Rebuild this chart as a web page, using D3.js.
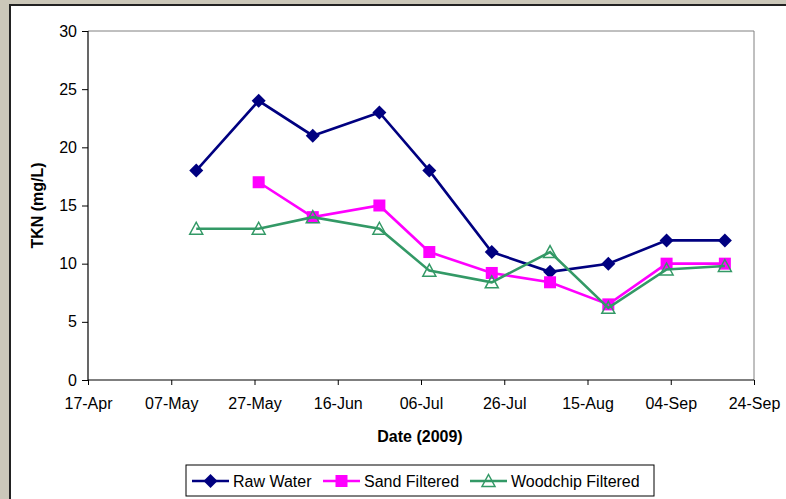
<!DOCTYPE html>
<html><head><meta charset="utf-8">
<script src="https://cdn.jsdelivr.net/npm/d3@7"></script>
<style>
html,body{margin:0;padding:0;background:#cdc9bc;}
svg{display:block;font-family:"Liberation Sans",Arial,sans-serif;}
</style></head>
<body>
<svg id="chart" width="786" height="499"></svg>
<script>
const dates = ["2009-05-13","2009-05-28","2009-06-10","2009-06-26","2009-07-08","2009-07-23","2009-08-06","2009-08-20","2009-09-03","2009-09-17"];
const rawWater = [18, 24, 21, 23, 18, 11, 9.3, 10, 12, 12];
const sandFiltered = [null, 17, 14, 15, 11, 9.2, 8.4, 6.5, 10, 10];
const woodchipFiltered = [13, 13, 14, 13, 9.4, 8.4, 11, 6.2, 9.5, 9.8];
const seriesNames = ["Raw Water", "Sand Filtered", "Woodchip Filtered"];
const xTickLabels = ["17-Apr","07-May","27-May","16-Jun","06-Jul","26-Jul","15-Aug","04-Sep","24-Sep"];
const yTicks = [0, 5, 10, 15, 20, 25, 30];

const parse = d3.timeParse("%Y-%m-%d");
const startDate = parse("2009-04-17");
const xTickDates = xTickLabels.map((_, i) => d3.timeDay.offset(startDate, i * 20));

const svg = d3.select("#chart");
// background frame
svg.append("rect").attr("x", 0).attr("y", 0).attr("width", 786).attr("height", 499).attr("fill", "#cbc7b9");
svg.append("rect").attr("x", 10).attr("y", 5).attr("width", 800).attr("height", 520).attr("fill", "#fff")
  .attr("stroke", "#222").attr("stroke-width", 2);

const L = 88, R = 754, T = 31, B = 380;
const x = d3.scaleTime().domain([startDate, xTickDates[xTickDates.length - 1]]).range([L, R]);
const y = d3.scaleLinear().domain([0, 30]).range([B, T]);

// plot border
svg.append("line").attr("x1", L).attr("x2", R).attr("y1", T).attr("y2", T).attr("stroke", "#808080");
svg.append("line").attr("x1", R).attr("x2", R).attr("y1", T).attr("y2", B).attr("stroke", "#808080");

const yAxis = svg.append("g").attr("transform", `translate(${L},0)`)
  .call(d3.axisLeft(y).tickValues(yTicks).tickSize(6).tickPadding(5).tickFormat(d3.format("d")));
const xAxis = svg.append("g").attr("transform", `translate(0,${B})`)
  .call(d3.axisBottom(x).tickValues(xTickDates).tickSize(5).tickPadding(13).tickFormat((d, i) => xTickLabels[i]));
[yAxis, xAxis].forEach(g => {
  g.select(".domain").attr("stroke", "#000").attr("stroke-width", 1.2);
  g.selectAll(".tick line").attr("stroke", "#000");
  g.selectAll("text").attr("font-size", 16).attr("fill", "#000").attr("font-family", '"Liberation Sans",Arial,sans-serif');
});
yAxis.select(".domain").attr("d", `M0,${B}V${T}`);
xAxis.select(".domain").attr("d", `M${L},0H${R}`);

svg.append("text").attr("x", 420).attr("y", 442).attr("text-anchor", "middle")
  .attr("font-size", 16).attr("font-weight", "bold").text("Date (2009)");
svg.append("text").attr("transform", `translate(43,${(T + B) / 2}) rotate(-90)`).attr("text-anchor", "middle")
  .attr("font-size", 16).attr("font-weight", "bold").text("TKN (mg/L)");

const colors = ["#000080", "#ff00ff", "#339966"];
const allSeries = [rawWater, sandFiltered, woodchipFiltered];
const parsedDates = dates.map(parse);

function drawMarker(g, type, cx, cy, color) {
  if (type === 0) {
    g.append("path").attr("d", `M${cx},${cy - 7}L${cx + 7},${cy}L${cx},${cy + 7}L${cx - 7},${cy}Z`).attr("fill", color);
  } else if (type === 1) {
    g.append("rect").attr("x", cx - 6).attr("y", cy - 6).attr("width", 12).attr("height", 12).attr("fill", color);
  } else {
    g.append("path").attr("d", `M${cx},${cy - 6.5}L${cx + 6.5},${cy + 5.5}L${cx - 6.5},${cy + 5.5}Z`)
      .attr("fill", "none").attr("stroke", color).attr("stroke-width", 1.5);
  }
}

allSeries.forEach((vals, si) => {
  const pts = parsedDates.map((d, i) => ({ d, v: vals[i] })).filter(p => p.v !== null);
  const line = d3.line().x(p => x(p.d)).y(p => y(p.v));
  const g = svg.append("g");
  g.append("path").attr("d", line(pts)).attr("fill", "none").attr("stroke", colors[si]).attr("stroke-width", 2.6);
  pts.forEach(p => drawMarker(g, si, x(p.d), y(p.v), colors[si]));
});

// legend
const lg = svg.append("g");
lg.append("rect").attr("x", 186).attr("y", 465).attr("width", 468).attr("height", 31)
  .attr("fill", "#fff").attr("stroke", "#000").attr("stroke-width", 1);
const legX = [192, 323, 470];
seriesNames.forEach((name, i) => {
  const cy = 481;
  lg.append("line").attr("x1", legX[i]).attr("x2", legX[i] + 37).attr("y1", cy).attr("y2", cy)
    .attr("stroke", colors[i]).attr("stroke-width", 2.6);
  drawMarker(lg, i, legX[i] + 18.5, cy, colors[i]);
  lg.append("text").attr("x", legX[i] + 41).attr("y", cy + 6).attr("font-size", 16).text(name);
});
</script>
</body></html>
